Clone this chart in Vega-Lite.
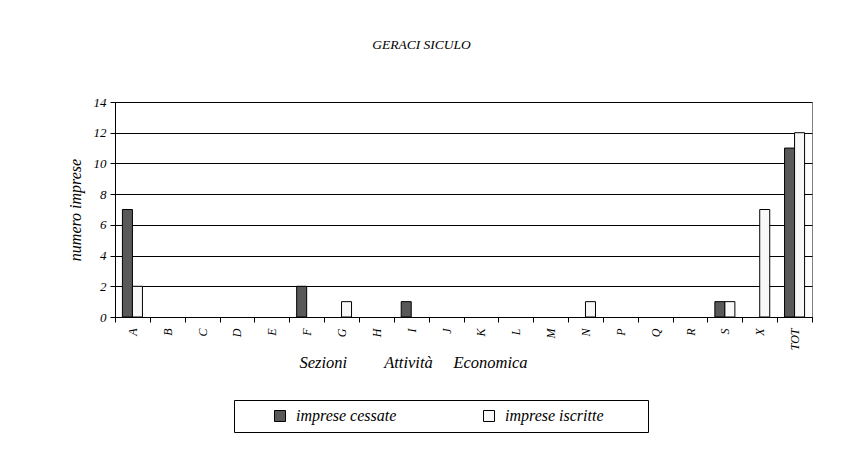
{
  "$schema": "https://vega.github.io/schema/vega-lite/v6.json",
  "width": 697,
  "height": 215,
  "autosize": {"type": "none"},
  "padding": {"left": 115, "top": 102, "right": 29, "bottom": 136},
  "background": "white",
  "title": {
    "text": "GERACI SICULO",
    "font": "'Liberation Serif', 'Times New Roman', serif",
    "fontStyle": "italic",
    "fontWeight": "normal",
    "fontSize": 13.5,
    "color": "black",
    "anchor": "middle",
    "dx": -42,
    "offset": 45
  },
  "data": {
    "values": [
      {"sezione": "A", "serie": "imprese cessate", "valore": 7},
      {"sezione": "A", "serie": "imprese iscritte", "valore": 2},
      {"sezione": "F", "serie": "imprese cessate", "valore": 2},
      {"sezione": "G", "serie": "imprese iscritte", "valore": 1},
      {"sezione": "I", "serie": "imprese cessate", "valore": 1},
      {"sezione": "N", "serie": "imprese iscritte", "valore": 1},
      {"sezione": "S", "serie": "imprese cessate", "valore": 1},
      {"sezione": "S", "serie": "imprese iscritte", "valore": 1},
      {"sezione": "X", "serie": "imprese iscritte", "valore": 7},
      {"sezione": "TOT", "serie": "imprese cessate", "valore": 11},
      {"sezione": "TOT", "serie": "imprese iscritte", "valore": 12}
    ]
  },
  "mark": {"type": "bar", "stroke": "black", "strokeWidth": 1},
  "encoding": {
    "x": {
      "field": "sezione",
      "type": "nominal",
      "scale": {
        "domain": ["A","B","C","D","E","F","G","H","I","J","K","L","M","N","P","Q","R","S","X","TOT"],
        "paddingInner": 0,
        "paddingOuter": 0
      },
      "axis": {
        "title": "Sezioni\u00a0\u00a0\u00a0\u00a0\u00a0\u00a0\u00a0\u00a0\u00a0Attività\u00a0\u00a0\u00a0\u00a0\u00a0Economica",
        "titleFont": "'Liberation Serif', 'Times New Roman', serif",
        "titleFontStyle": "italic",
        "titleFontWeight": "normal",
        "titleFontSize": 16.5,
        "titleColor": "black",
        "titleX": 298,
        "titleY": 50,
        "titleBaseline": "alphabetic",
        "labelAngle": -90,
        "labelFont": "'Liberation Serif', 'Times New Roman', serif",
        "labelFontStyle": "italic",
        "labelFontSize": 12,
        "labelColor": "black",
        "labelPadding": 6,
        "tickBand": "extent",
        "tickColor": "black",
        "tickSize": 5,
        "domainColor": "black",
        "grid": false
      }
    },
    "xOffset": {
      "field": "serie",
      "scale": {"domain": ["imprese cessate", "imprese iscritte"], "paddingOuter": 0.74, "paddingInner": 0}
    },
    "y": {
      "field": "valore",
      "type": "quantitative",
      "scale": {"domain": [0, 14], "nice": false},
      "axis": {
        "title": "numero imprese",
        "titleFont": "'Liberation Serif', 'Times New Roman', serif",
        "titleFontStyle": "italic",
        "titleFontWeight": "normal",
        "titleFontSize": 16,
        "titleColor": "black",
        "titlePadding": 10,
        "values": [0,2,4,6,8,10,12,14],
        "labelFont": "'Liberation Serif', 'Times New Roman', serif",
        "labelFontStyle": "italic",
        "labelFontSize": 13,
        "labelColor": "black",
        "labelPadding": 4,
        "tickColor": "black",
        "tickSize": 5,
        "domainColor": "black",
        "grid": true,
        "gridColor": "black",
        "gridWidth": 1
      }
    },
    "color": {
      "field": "serie",
      "type": "nominal",
      "scale": {"domain": ["imprese cessate", "imprese iscritte"], "range": ["#595959", "#f8f8f8"]},
      "legend": {
        "title": null,
        "orient": "none",
        "legendX": 119,
        "legendY": 298,
        "direction": "horizontal",
        "symbolType": "square",
        "symbolSize": 121,
        "symbolStrokeColor": "black",
        "symbolStrokeWidth": 1,
        "symbolOffset": 30,
        "labelFont": "'Liberation Serif', 'Times New Roman', serif",
        "labelFontStyle": "italic",
        "labelFontSize": 16,
        "labelColor": "black",
        "labelOffset": 8,
        "labelExpr": "datum.label == 'imprese iscritte' ? datum.label + '\u2800\u2800\u2800' : datum.label",
        "columnPadding": 54,
        "padding": 8,
        "strokeColor": "black",
        "fillColor": "white"
      }
    }
  },
  "config": {
    "view": {"stroke": "#808080", "strokeWidth": 1},
    "font": "'Liberation Serif', 'Times New Roman', serif"
  }
}
